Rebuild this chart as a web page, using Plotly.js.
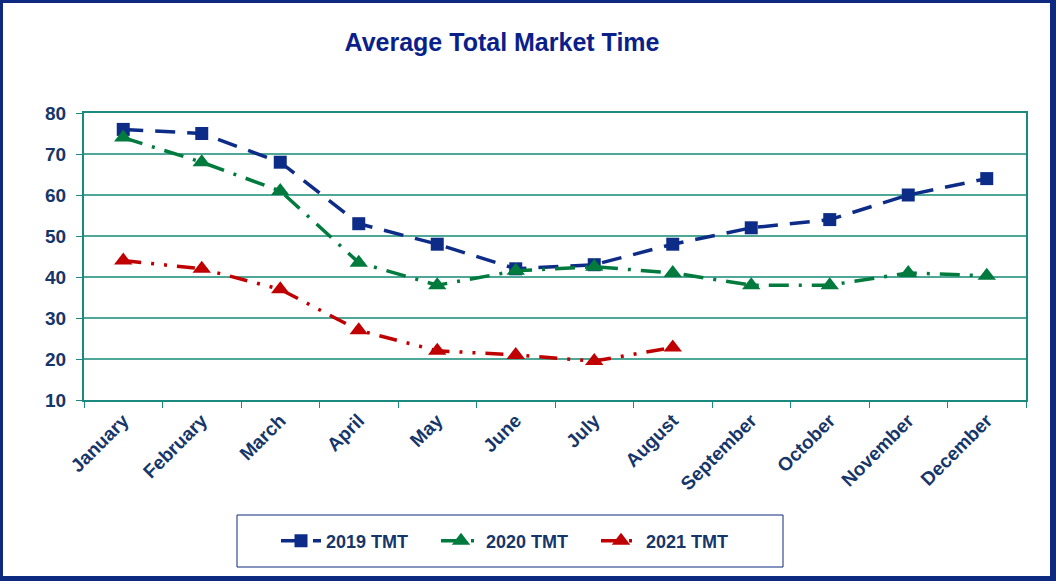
<!DOCTYPE html>
<html>
<head>
<meta charset="utf-8">
<script src="https://cdn.plot.ly/plotly-3.0.1.min.js"></script>
<style>
html,body{margin:0;padding:0;background:#fff;}
#wrap{width:1056px;height:581px;box-sizing:border-box;border-style:solid;border-color:#0d2a80;border-width:3px 6px 5px 3px;}
#chart{width:1047px;height:573px;}
</style>
</head>
<body>
<div id="wrap"><div id="chart"></div></div>
<script>
const months = ["January","February","March","April","May","June","July","August","September","October","November","December"];
const tmt2019 = [76,75,68,53,48,42,43,48,52,54,60,64];
const tmt2020 = [74,68,61,43.5,38,41.5,42.5,41,38,38,41,40.3];
const tmt2021 = [44,42,37,27,22,21,19.5,22.8];
const seriesNames = ["2019 TMT","2020 TMT","2021 TMT"];

const navy = "#16366a";
const FONT = "Liberation Sans, Arial, sans-serif";
const traces = [
  {x: months, y: tmt2019, name: seriesNames[0], mode: "lines+markers",
   line: {color: "#0d2c87", width: 3.5, dash: "20px,12px"},
   marker: {symbol: "square", size: 13, color: "#0d2c87"}},
  {x: months.slice(0, tmt2020.length), y: tmt2020, name: seriesNames[1], mode: "lines+markers",
   line: {color: "#007a3d", width: 3.5, dash: "20px,10px,3px,10px"},
   marker: {symbol: "triangle-up", size: 16, color: "#007a3d"}},
  {x: months.slice(0, tmt2021.length), y: tmt2021, name: seriesNames[2], mode: "lines+markers",
   line: {color: "#c00000", width: 3.5, dash: "18px,10px,3px,10px,3px,10px"},
   marker: {symbol: "triangle-up", size: 16, color: "#c00000"}}
];

const layout = {
  width: 1047, height: 573,
  margin: {l: 81, r: 24, t: 110, b: 176},
  paper_bgcolor: "#fff", plot_bgcolor: "#fff",
  font: {family: FONT, color: navy},
  title: {text: "<b>Average Total Market Time</b>", x: (502 - 3) / 1047, xanchor: "center", xref: "container",
          y: 1 - 39/573, yanchor: "middle", yref: "container",
          font: {family: FONT, size: 25, color: "#0b1f8a"}},
  xaxis: {
    type: "category", range: [-0.5, 11.5], tickangle: -45, tickson: "boundaries", ticks: "outside", ticklen: 6,
    tickcolor: "#1a8a80", showgrid: false, showline: true, linecolor: "#1a8a80", linewidth: 2,
    mirror: true, tickfont: {size: 19, color: navy, family: FONT, weight: "bold"}
  },
  yaxis: {
    range: [10, 80], dtick: 10, tick0: 10, ticks: "outside", ticklen: 6, tickcolor: "#1a8a80",
    ticklabelstandoff: 6,
    showgrid: true, gridcolor: "#4fa897", gridwidth: 1.3, showline: true, linecolor: "#1a8a80",
    linewidth: 2, mirror: true, zeroline: false,
    tickfont: {size: 19, color: navy, family: FONT, weight: "bold"}
  },
  shapes: [{type: "rect", xref: "paper", yref: "paper",
            x0: (237 - 84) / 942, x1: (783 - 84) / 942, y0: (400 - 567) / 287, y1: (400 - 515) / 287,
            line: {color: "#0d2a80", width: 1}, fillcolor: "rgba(0,0,0,0)", layer: "above"}],
  showlegend: true,
  legend: {
    orientation: "h", x: (276 - 84) / 942, xanchor: "left", y: (400 - 541) / 287, yanchor: "middle",
    borderwidth: 0, bgcolor: "rgba(0,0,0,0)",
    font: {size: 18, color: navy, family: FONT, weight: "bold"},
    entrywidth: 105, itemwidth: 40, tracegroupgap: 0
  }
};

Plotly.newPlot("chart", traces, layout, {displayModeBar: false, staticPlot: true});
</script>
</body>
</html>
